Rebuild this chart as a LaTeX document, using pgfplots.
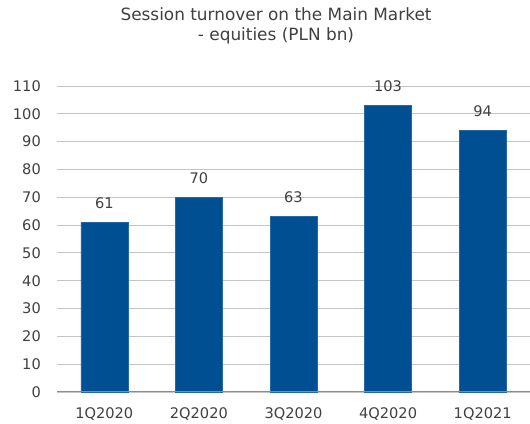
\documentclass[border=0pt]{standalone}
\usepackage{fontspec}
\setmainfont{DejaVu Sans}
\usepackage{pgfplots}
\pgfplotsset{compat=1.18}
\definecolor{barblue}{RGB}{0,79,146}
\definecolor{txt}{RGB}{64,64,64}
\definecolor{gridc}{RGB}{196,196,196}
\definecolor{axisc}{RGB}{140,140,140}
\begin{document}
\begin{tikzpicture}
\path[use as bounding box] (-57pt,-31pt) rectangle (473pt,392pt);
\begin{axis}[
  scale only axis,
  width=473pt, height=306pt,
  xmin=-0.5, xmax=4.5,
  ymin=0, ymax=110,
  ytick={0,10,...,110},
  xtick=data,
  xticklabels={1Q2020,2Q2020,3Q2020,4Q2020,1Q2021},
  axis line style={draw=none},
  major tick length=0pt,
  ymajorgrids,
  grid style={gridc, line width=0.9pt},
  /pgf/number format/assume math mode=true,
  ticklabel style={font=\fontsize{14.6}{17}\selectfont, text=txt},
  yticklabel style={anchor=east, inner sep=0pt, xshift=-16pt},
  xticklabel style={anchor=base, inner sep=0pt, yshift=-27pt},
  ybar, bar width=47pt,
  nodes near coords,
  every node near coord/.append style={font=\fontsize{14.6}{17}\selectfont, text=txt, anchor=base, inner sep=0pt, yshift=14pt},
  clip=false,
]
\addplot[fill=barblue, draw=barblue!85!white, line width=0.5pt] coordinates {(0,61) (1,70) (2,63) (3,103) (4,94)};
\draw[axisc, line width=1pt] (axis cs:-0.5,0) -- (axis cs:4.5,0);
\end{axis}
\node[anchor=base, text=txt, font=\fontsize{16.9}{20}\selectfont] at (219pt,371.5pt) {Session turnover on the Main Market};
\node[anchor=base, text=txt, font=\fontsize{16.9}{20}\selectfont] at (219pt,351pt) {- equities (PLN bn)};
\end{tikzpicture}
\end{document}
